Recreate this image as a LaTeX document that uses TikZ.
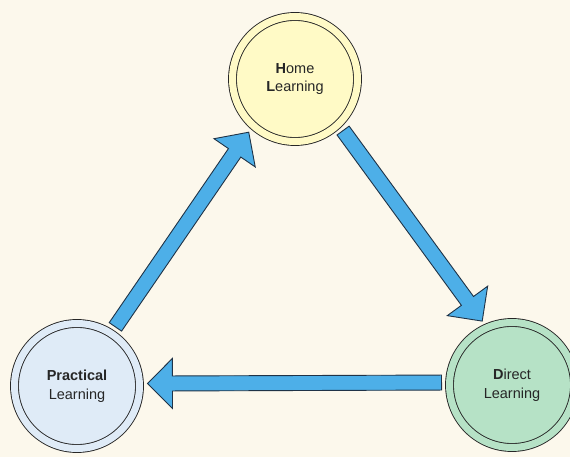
\documentclass[tikz,border=0pt]{standalone}
\usepackage{fontspec}
\setmainfont{Liberation Sans}
\usepackage{xcolor}
\usetikzlibrary{calc}

\definecolor{bgcream}{HTML}{FCF8EC}
\definecolor{homeyellow}{HTML}{FFFAC6}
\definecolor{pracblue}{HTML}{DFEBF7}
\definecolor{dirgreen}{HTML}{B6E2C6}
\definecolor{arrowblue}{HTML}{4DAFE8}
\definecolor{arrowline}{HTML}{1F3347}
\definecolor{ringgray}{HTML}{262626}

% wide block arrow from #1 to the tip #2
\newcommand\fatarrow[2]{%
    \coordinate (ah) at ($(#2)!25pt!(#1)$);
    \draw[blockarrow] ($(#1)!7.5pt!90:(#2)$) -- ($(ah)!7.5pt!90:(#2)$)
        -- ($(ah)!25pt!90:(#2)$) -- (#2) -- ($(ah)!25pt!-90:(#2)$)
        -- ($(ah)!7.5pt!-90:(#2)$) -- ($(#1)!7.5pt!-90:(#2)$) -- cycle;}

\begin{document}
\begin{tikzpicture}[x=1pt, y=-1pt,
        learn/.style={circle, draw=ringgray, line width=.9pt, double=#1,
            double distance=7pt, fill=#1, minimum size=125pt, outer sep=8pt,
            align=center, text=black!85, font=\fontsize{14.5}{18.5}\selectfont},
        blockarrow/.style={fill=arrowblue, draw=arrowline, line width=.9pt}]
        \fill[bgcream] (0,0) rectangle (570,457);
        \clip (0,0) rectangle (570,457);

        \node[learn=homeyellow] (home) at (295, 79) {\textbf{H}ome\\\textbf{L}earning};
        \node[learn=pracblue] (prac) at (77, 386) {\textbf{Practical}\\Learning};
        \node[learn=dirgreen] (dir) at (512, 385) {\textbf{D}irect\\Learning};

        \fatarrow{prac.57}{home.229}
        \fatarrow{home.-47}{dir.115}
        \fatarrow{dir.178}{prac.2}
    \end{tikzpicture}
\end{document}
